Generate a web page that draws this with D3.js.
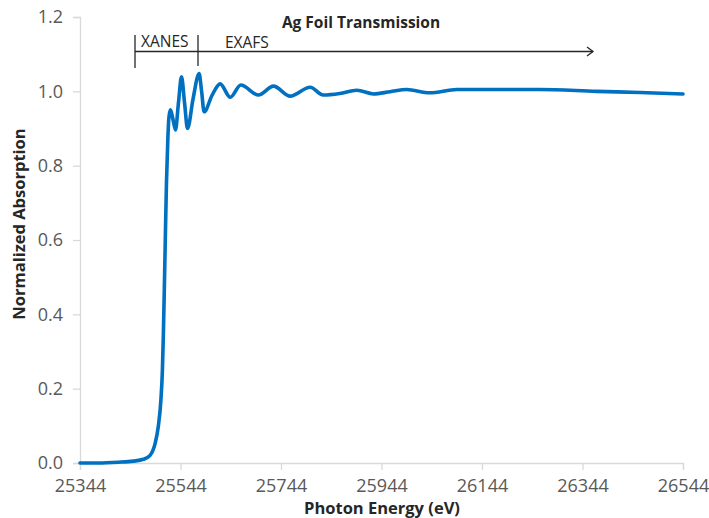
<!DOCTYPE html>
<html>
<head>
<meta charset="utf-8">
<script src="https://cdn.jsdelivr.net/npm/d3@7"></script>
<style>
  html, body { margin: 0; padding: 0; background: #fff; }
  svg { display: block; }
  text { font-family: "Open Sans", "Liberation Sans", sans-serif; }
</style>
</head>
<body>
<svg id="chart" width="709" height="518"></svg>
<script>
// ---- data ----
const energy = [25344, 25380, 25420, 25450, 25470, 25483, 25493, 25500, 25505, 25508, 25510, 25513, 25516, 25519, 25521, 25524, 25529, 25534, 25540, 25546, 25552, 25558, 25569, 25581, 25586, 25591, 25607, 25623, 25643, 25664, 25699, 25729, 25762, 25802, 25828, 25861, 25895, 25928, 25961, 25994, 26040, 26094, 26180, 26259, 26372, 26458, 26544];
const absorption = [0.0, 0.0, 0.002, 0.005, 0.010, 0.02, 0.05, 0.10, 0.17, 0.25, 0.35, 0.55, 0.75, 0.88, 0.93, 0.950, 0.925, 0.896, 0.97, 1.039, 0.97, 0.900, 0.98, 1.048, 1.00, 0.945, 0.99, 1.020, 0.984, 1.017, 0.990, 1.014, 0.987, 1.011, 0.990, 0.994, 1.003, 0.993, 0.999, 1.005, 0.996, 1.005, 1.005, 1.005, 1.000, 0.997, 0.993];
const xTicks = [25344, 25544, 25744, 25944, 26144, 26344, 26544];
const yTicks = [0.0, 0.2, 0.4, 0.6, 0.8, 1.0, 1.2];
const title = "Ag Foil Transmission";
const xTitle = "Photon Energy (eV)";
const yTitle = "Normalized Absorption";
const regionLabels = ["XANES", "EXAFS"];

// ---- layout ----
const svg = d3.select("#chart");
const x = d3.scaleLinear().domain([25344, 26544]).range([80, 683]);
const y = d3.scaleLinear().domain([0, 1.2]).range([463, 17]);
const axisColor = "#d9d9d9";
const tickText = "#595959";

// x axis
const gx = svg.append("g").attr("transform", `translate(0,${y(0)})`)
  .call(d3.axisBottom(x).tickValues(xTicks).tickFormat(d3.format("d")).tickSizeOuter(0).tickSize(7).tickPadding(9));
gx.select(".domain").attr("stroke", axisColor).attr("stroke-width", 1.3);
gx.selectAll(".tick line").attr("stroke", axisColor).attr("stroke-width", 1.3);
gx.selectAll(".tick text").attr("fill", tickText).attr("font-size", 18);

// y axis
const gy = svg.append("g").attr("transform", `translate(${x(25344)},0)`)
  .call(d3.axisLeft(y).tickValues(yTicks).tickFormat(d3.format(".1f")).tickSizeOuter(0).tickSize(7).tickPadding(10));
gy.select(".domain").attr("stroke", axisColor).attr("stroke-width", 1.3);
gy.selectAll(".tick line").attr("stroke", axisColor).attr("stroke-width", 1.3);
gy.selectAll(".tick text").attr("fill", tickText).attr("font-size", 18);

// line
const data = energy.map((e, i) => ({e, a: absorption[i]}));
svg.append("path").datum(data)
  .attr("fill", "none").attr("stroke", "#0070C0").attr("stroke-width", 3.6)
  .attr("stroke-linejoin", "round").attr("stroke-linecap", "round")
  .attr("d", d3.line().x(d => x(d.e)).y(d => y(d.a)).curve(d3.curveMonotoneX));

// titles
svg.append("text").attr("x", 361).attr("y", 28).attr("text-anchor", "middle")
  .attr("font-size", 15.5).attr("font-weight", "bold").attr("fill", "#262626").text(title);
svg.append("text").attr("x", 382).attr("y", 514).attr("text-anchor", "middle")
  .attr("font-size", 16.5).attr("font-weight", "bold").attr("fill", "#262626").text(xTitle);
svg.append("text").attr("transform", "translate(25,224) rotate(-90)").attr("text-anchor", "middle")
  .attr("font-size", 16.5).attr("font-weight", "bold").attr("fill", "#262626").text(yTitle);

// annotation
const ann = svg.append("g").attr("stroke", "#262626").attr("stroke-width", 1.3).attr("fill", "none");
const lineY = 51.5;
ann.append("line").attr("x1", 135).attr("x2", 135).attr("y1", 35).attr("y2", 68);
ann.append("line").attr("x1", 198).attr("x2", 198).attr("y1", 35).attr("y2", 66);
ann.append("line").attr("x1", 135).attr("x2", 593).attr("y1", lineY).attr("y2", lineY);
ann.append("path").attr("d", `M587,${lineY - 4.5} L593,${lineY} L587,${lineY + 4.5}`);
svg.append("text").attr("x", 141).attr("y", 47).attr("font-size", 15.5).attr("fill", "#262626").text(regionLabels[0]);
svg.append("text").attr("x", 225).attr("y", 48).attr("font-size", 15.5).attr("fill", "#262626").text(regionLabels[1]);
</script>
</body>
</html>
